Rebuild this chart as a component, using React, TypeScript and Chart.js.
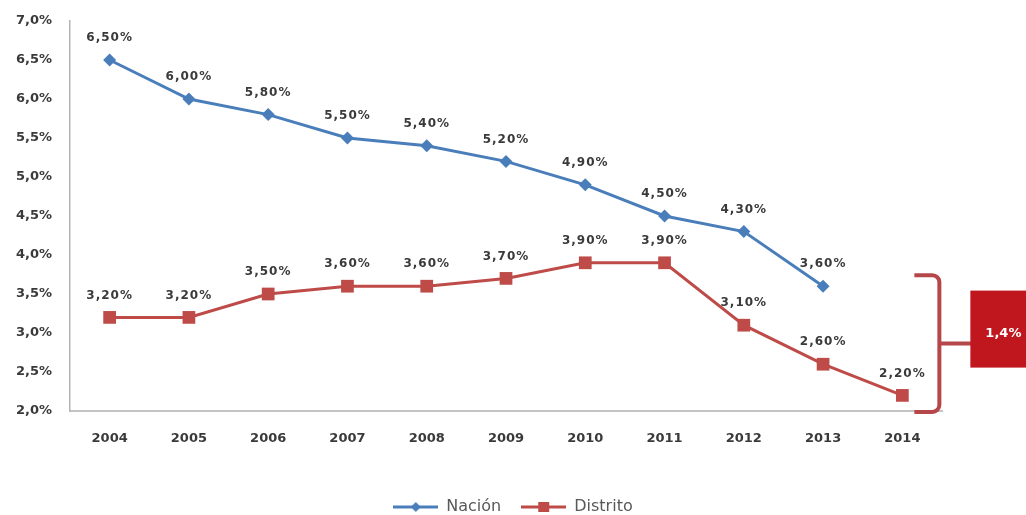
import { useEffect, useRef } from 'react'
import Chart from 'chart.js/auto'

const years = ['2004', '2005', '2006', '2007', '2008', '2009', '2010', '2011', '2012', '2013', '2014']
const nacion = [6.5, 6.0, 5.8, 5.5, 5.4, 5.2, 4.9, 4.5, 4.3, 3.6, null]
const distrito = [3.2, 3.2, 3.5, 3.6, 3.6, 3.7, 3.9, 3.9, 3.1, 2.6, 2.2]

const BLUE = '#4A7EBB'
const RED = '#BE4B48'
const TEXT = '#3a3a3a'

const fmt = (v: number, d: number) => v.toFixed(d).replace('.', ',') + '%'

// legend icon: short line with the marker in the middle
function legendIcon(color: string, shape: 'diamond' | 'square') {
  const c = document.createElement('canvas')
  c.width = 45
  c.height = 14
  const g = c.getContext('2d')!
  g.strokeStyle = color
  g.lineWidth = 3
  g.beginPath()
  g.moveTo(0, 7)
  g.lineTo(45, 7)
  g.stroke()
  g.fillStyle = color
  g.beginPath()
  if (shape === 'diamond') {
    g.moveTo(22.5, 2); g.lineTo(27.5, 7); g.lineTo(22.5, 12); g.lineTo(17.5, 7)
  } else {
    g.rect(17, 2, 11, 10)
  }
  g.closePath()
  g.fill()
  return c
}

const valueLabels = {
  id: 'valueLabels',
  afterDatasetsDraw(chart: any) {
    const ctx = chart.ctx
    ctx.save()
    ctx.font = 'bold 12px "DejaVu Sans"'
    ;(ctx as any).letterSpacing = '1px'
    ctx.fillStyle = TEXT
    ctx.textAlign = 'center'
    ctx.textBaseline = 'middle'
    chart.data.datasets.forEach((ds: any, i: number) => {
      chart.getDatasetMeta(i).data.forEach((pt: any, j: number) => {
        const v = ds.data[j]
        if (v == null) return
        ctx.fillText(fmt(v, 2), pt.x, pt.y - 22)
      })
    })
    ctx.restore()
  }
}

const gapBracket = {
  id: 'gapBracket',
  afterDraw(chart: any) {
    const { ctx, chartArea, scales } = chart
    const xs = scales.x
    const ys = scales.y
    const lastNa = nacion[9] as number
    const lastDi = distrito[10]
    const px = xs.getPixelForValue(10)
    const left = px + 12
    const vx = px + 37
    const top = ys.getPixelForValue(lastNa) - 11
    const bottom = chartArea.bottom + 1
    const mid = (top + bottom) / 2
    ctx.save()
    ctx.strokeStyle = '#B5474B'
    ctx.lineWidth = 4
    ctx.lineJoin = 'round'
    ctx.beginPath()
    ctx.moveTo(left, top)
    ctx.arcTo(vx, top, vx, mid, 7)
    ctx.arcTo(vx, bottom, left, bottom, 7)
    ctx.lineTo(left, bottom)
    ctx.moveTo(vx, mid)
    ctx.lineTo(vx + 32, mid)
    ctx.stroke()
    ctx.fillStyle = '#C0161D'
    ctx.fillRect(vx + 31, mid - 53, 80, 77)
    ctx.fillStyle = '#ffffff'
    ctx.font = 'bold 13px "DejaVu Sans"'
    ctx.textAlign = 'left'
    ctx.textBaseline = 'middle'
    ctx.fillText(fmt(lastNa - lastDi, 1), vx + 46, mid - 10)
    ctx.restore()
  }
}

export default function App() {
  const canvasRef = useRef<HTMLCanvasElement | null>(null)
  const chartRef = useRef<any>(null)

  useEffect(() => {
    document.body.style.margin = '0'
    const ctx = canvasRef.current?.getContext('2d')
    if (!ctx) return
    if (chartRef.current) chartRef.current.destroy()

    Chart.defaults.font.family = '"DejaVu Sans"'
    const icons = [legendIcon(BLUE, 'diamond'), legendIcon(RED, 'square')]

    chartRef.current = new Chart(ctx, {
      type: 'line',
      data: {
        labels: years,
        datasets: [
          {
            label: 'Nación', data: nacion, borderColor: BLUE, backgroundColor: BLUE, borderWidth: 3,
            pointStyle: 'rectRot', pointRadius: 6.5, pointBorderWidth: 0, tension: 0
          },
          {
            label: 'Distrito', data: distrito, borderColor: RED, backgroundColor: RED, borderWidth: 3,
            pointStyle: 'rect', pointRadius: 9, pointBorderWidth: 0, tension: 0
          }
        ]
      },
      options: {
        responsive: true,
        maintainAspectRatio: false,
        animation: false,
        layout: { padding: { top: 21, right: 0, left: 0, bottom: -10 } },
        scales: {
          x: {
            offset: true,
            grid: { display: false, drawTicks: false },
            border: { color: '#c4c4c4', width: 2 },
            ticks: { color: TEXT, font: { size: 13, weight: 'bold' }, padding: 20 },
            afterFit: (s: any) => { s.height = 68 }
          },
          y: {
            min: 2, max: 7,
            grid: { display: false, drawTicks: false },
            border: { color: '#b4b4b4', width: 1.5 },
            ticks: {
              stepSize: 0.5, color: TEXT, padding: 18, font: { size: 13, weight: 'bold' },
              callback: (v: any) => fmt(Number(v), 1)
            },
            afterFit: (s: any) => { s.width = 70; s.paddingTop = 0 }
          },
          // empty right axis: keeps room for the gap bracket
          yRight: {
            position: 'right',
            grid: { display: false, drawTicks: false },
            border: { display: false },
            ticks: { display: false },
            afterFit: (s: any) => { s.width = 84; s.paddingTop = 0 }
          }
        },
        plugins: {
          tooltip: { enabled: false },
          legend: {
            position: 'bottom',
            labels: {
              usePointStyle: true,
              pointStyleWidth: 45,
              padding: 20,
              color: '#595959',
              font: { size: 16 },
              generateLabels: (chart: any) =>
                Chart.defaults.plugins.legend.labels.generateLabels(chart).map((l: any, i: number) => ({ ...l, pointStyle: icons[i] }))
            }
          }
        }
      },
      plugins: [valueLabels, gapBracket]
    })

    return () => chartRef.current?.destroy()
  }, [])

  return (
    <div style={{ width: 1026, height: 515, position: 'relative' }}>
      <canvas ref={canvasRef} />
    </div>
  )
}
